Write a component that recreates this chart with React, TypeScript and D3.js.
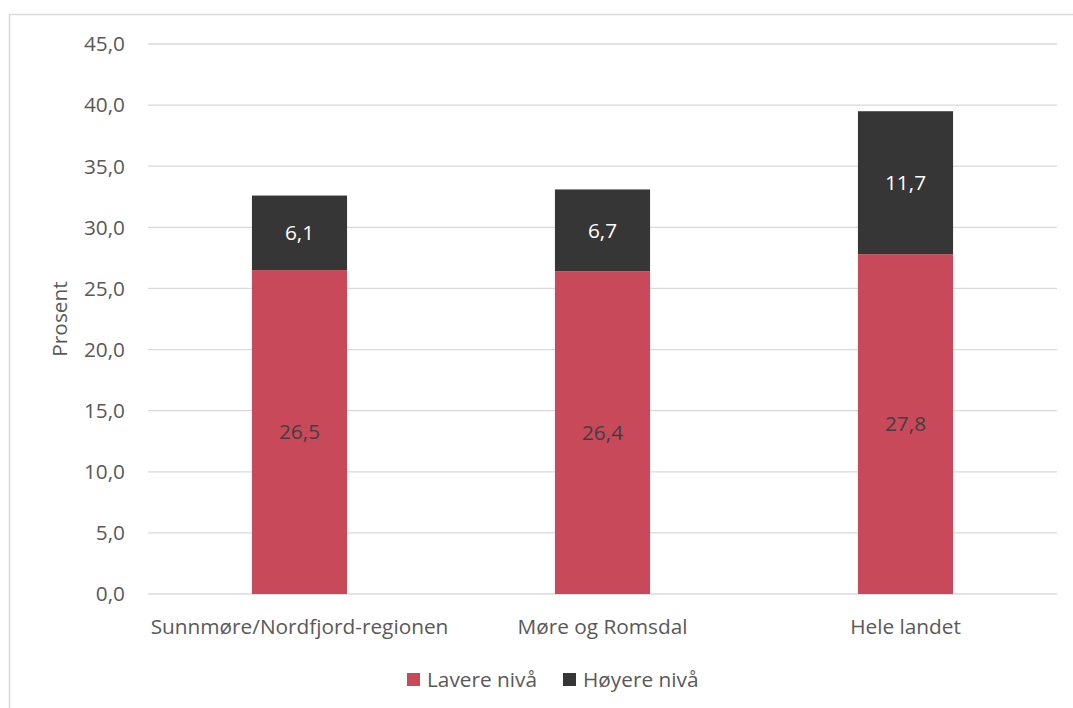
import { FC } from "react";
import * as d3 from "d3";

const W = 1073;
const H = 708;

const categories = ["Sunnmøre/Nordfjord-regionen", "Møre og Romsdal", "Hele landet"];
const lavere = [26.5, 26.4, 27.8];
const hoyere = [6.1, 6.7, 11.7];
const seriesNames = ["Lavere nivå", "Høyere nivå"];
const colors = ["#C8495A", "#363636"];
const yTicks = [0, 5, 10, 15, 20, 25, 30, 35, 40, 45];

const FONT = "'Open Sans', sans-serif";
const TEXT = "#595959";
const FS = 20.8;

const fmt = (v: number) => v.toFixed(1).replace(".", ",");

const App: FC = () => {
  const x = d3.scaleBand<string>().domain(categories).range([148, 1057]).paddingInner(0.686).paddingOuter(0.343);
  const y = d3.scaleLinear().domain([0, 45]).range([594, 44]);

  const stack = d3.stack<number>().keys(["0", "1"]).value((i, k) => (k === "0" ? lavere[i] : hoyere[i]));
  const layers = stack(categories.map((_, i) => i));

  return (
    <svg width={W} height={H} style={{ position: "absolute", left: 0, top: 0 }} fontFamily={FONT}>
      <rect x={9.5} y={14.5} width={W + 10} height={H + 10} fill="#fff" stroke="#D9D9D9" strokeWidth={1.5} />
      {yTicks.map((t) => (
        <g key={t}>
          <line x1={148} x2={1057} y1={y(t)} y2={y(t)} stroke="#D9D9D9" strokeWidth={1.3} />
          <text x={125} y={y(t)} dy="0.35em" textAnchor="end" fontSize={FS} fill={TEXT}>
            {fmt(t)}
          </text>
        </g>
      ))}
      <text transform={`translate(67,${y(22.5)}) rotate(-90)`} textAnchor="middle" fontSize={FS} fill={TEXT}>
        Prosent
      </text>
      {layers.map((layer, li) =>
        layer.map((d, i) => {
          const top = y(d[1]);
          const bot = y(d[0]);
          const val = li === 0 ? lavere[i] : hoyere[i];
          return (
            <g key={`${li}-${i}`}>
              <rect x={x(categories[i])} y={top} width={x.bandwidth()} height={bot - top} fill={colors[li]} />
              <text
                x={x(categories[i])! + x.bandwidth() / 2}
                y={(top + bot) / 2}
                dy="0.35em"
                textAnchor="middle"
                fontSize={FS}
                fill={li === 0 ? "#404040" : "#fff"}
              >
                {fmt(val)}
              </text>
            </g>
          );
        })
      )}
      {categories.map((c) => (
        <text key={c} x={x(c)! + x.bandwidth() / 2} y={627} dy="0.35em" textAnchor="middle" fontSize={FS} fill={TEXT}>
          {c}
        </text>
      ))}
      {seriesNames.map((s, i) => {
        const lx = [407, 563][i];
        return (
          <g key={s}>
            <rect x={lx} y={673} width={13} height={13} fill={colors[i]} />
            <text x={lx + 20} y={680} dy="0.35em" fontSize={FS} fill={TEXT}>
              {s}
            </text>
          </g>
        );
      })}
    </svg>
  );
};

export default App;
